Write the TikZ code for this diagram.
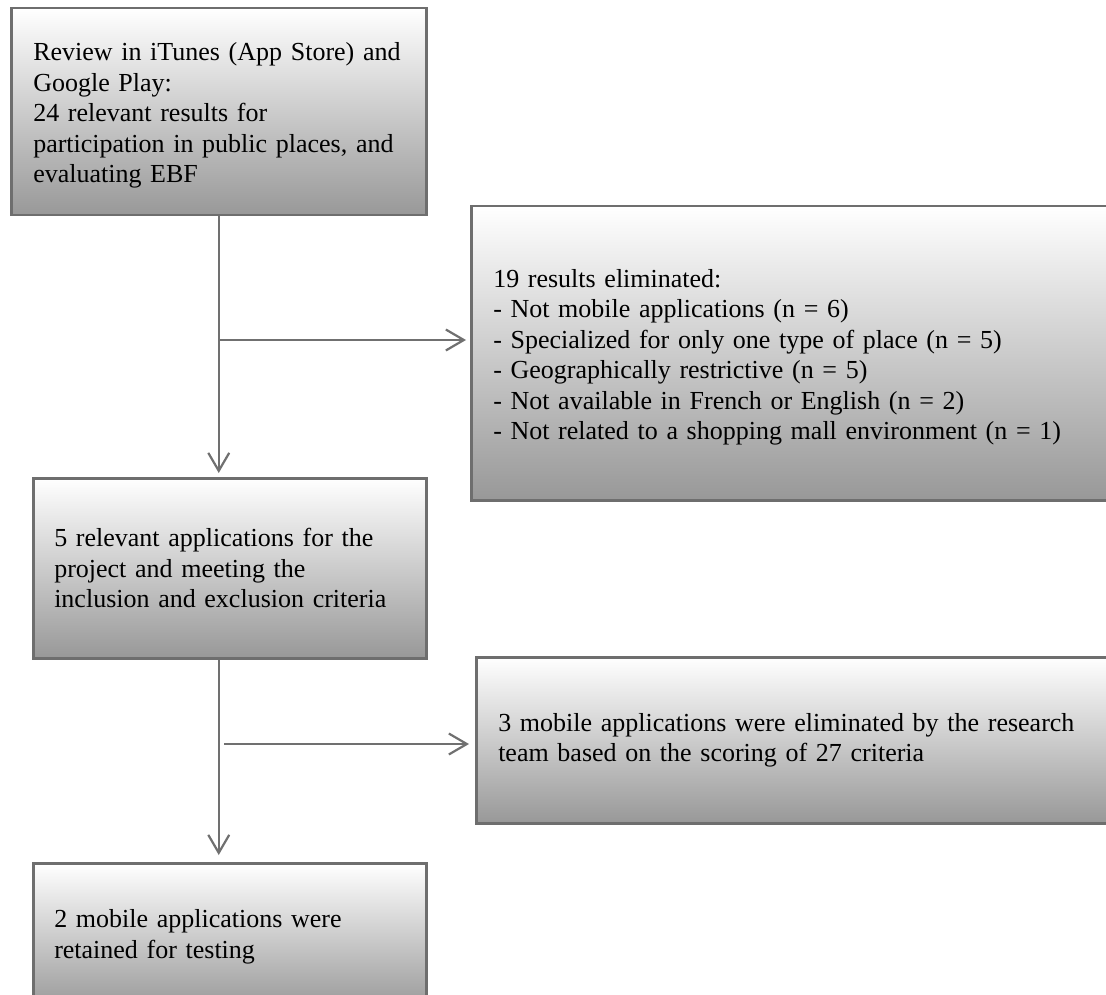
\documentclass[tikz,border=0pt]{standalone}
\usepackage{fontspec}
\setmainfont{Liberation Serif}
\usetikzlibrary{arrows.meta,calc}
\definecolor{framegray}{RGB}{110,110,110}
\definecolor{shadegray}{RGB}{152,152,152}
\definecolor{linegray}{RGB}{112,112,112}

\begin{document}
\begin{tikzpicture}[x=1pt, y=-1pt,
    box/.style={draw=framegray, line width=2.5pt, rectangle, top color=white, bottom color=shadegray,
        anchor=north west, align=left, inner xsep=22pt, inner ysep=0pt,
        font=\fontsize{26}{30.5}\selectfont},
    flow/.style={draw=linegray, line width=2.2pt, -{Straight Barb[length=18pt,width=21pt]}}]
    \useasboundingbox (0,0) rectangle (1106,995);
    % Store review
    \node[box, minimum height=207pt, text width=371pt] (review) at (10,7) {
        \rule{0pt}{26pt}\mbox{Review in iTunes (App Store) and}\\
        Google Play:\\
        24 relevant results for\\
        participation in public places, and\\
        evaluating EBF};
    % First elimination
    \node[box, minimum height=294pt, text width=602pt] (elim) at (470,205) {
        \rule{0pt}{26pt}19 results eliminated:\\
        - Not mobile applications (n = 6)\\
        - Specialized for only one type of place (n = 5)\\
        - Geographically restrictive (n = 5)\\
        - Not available in French or English (n = 2)\\
        - Not related to a shopping mall environment (n = 1)};
    % Relevant applications
    \node[box, minimum height=180pt, text width=351pt, inner xsep=21pt] (relevant) at (32,477) {
        5 relevant applications for the\\
        project and meeting the\\
        inclusion and exclusion criteria};
    % Second elimination
    \node[box, minimum height=166pt, text width=600pt] (scoring) at (475,656) {
        3 mobile applications were eliminated by the research\\
        team based on the scoring of 27 criteria};
    % Retained applications
    \node[box, minimum height=147pt, text width=351pt, inner xsep=21pt] (retained) at (32,862) {
        2 mobile applications were\\
        retained for testing};
    \coordinate (split1) at (218,340);
    \coordinate (split2) at (224,744);
    \draw[flow, shorten >=4pt] (review.south) -- (review.south |- relevant.north);
    \draw[flow, shorten >=4pt] (split1) -- (split1 -| elim.west);
    \draw[flow, shorten >=7pt] (review.south |- relevant.south) -- (review.south |- retained.north);
    \draw[flow, shorten >=6pt] (split2) -- (split2 -| scoring.west);
\end{tikzpicture}
\end{document}
